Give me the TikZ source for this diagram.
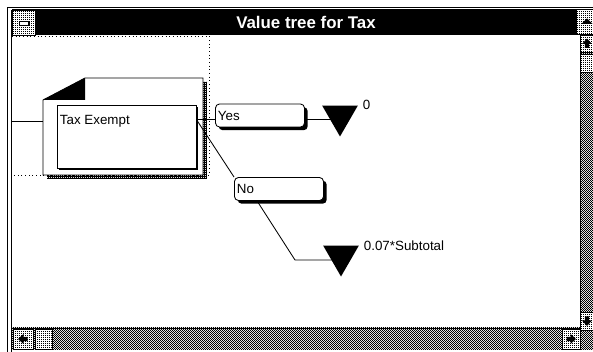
\documentclass[tikz,border=0pt]{standalone}
\usepackage{fontspec}
\setmainfont{Liberation Sans}
\usetikzlibrary{calc,positioning,shapes.geometric,shadows,patterns}

% screen dithers, one cell = one screen pixel
\pgfdeclarepatternformonly{halfdither}{\pgfpointorigin}{\pgfpoint{1.4173pt}{1.4173pt}}{\pgfpoint{1.4173pt}{1.4173pt}}{
  \pgfpathrectangle{\pgfpointorigin}{\pgfpoint{0.7087pt}{0.7087pt}}
  \pgfpathrectangle{\pgfpoint{0.7087pt}{0.7087pt}}{\pgfpoint{0.7087pt}{0.7087pt}}
  \pgfusepath{fill}}
\pgfdeclarepatternformonly{lightdither}{\pgfpointorigin}{\pgfpoint{1.4173pt}{1.4173pt}}{\pgfpoint{1.4173pt}{1.4173pt}}{
  \pgfpathrectangle{\pgfpointorigin}{\pgfpoint{0.7087pt}{0.7087pt}}
  \pgfusepath{fill}}
\pgfdeclarepatternformonly{darkdither}{\pgfpointorigin}{\pgfpoint{1.4173pt}{1.4173pt}}{\pgfpoint{1.4173pt}{1.4173pt}}{
  \pgfpathrectangle{\pgfpointorigin}{\pgfpoint{1.4173pt}{0.7087pt}}
  \pgfpathrectangle{\pgfpoint{0.7087pt}{0.7087pt}}{\pgfpoint{0.7087pt}{0.7087pt}}
  \pgfusepath{fill}}

\tikzset{scrollarrow/.pic={\fill (-5,0.5) -- (0,-5) -- (5,0.5) -- (2.2,0.5) -- (2.2,4.5) -- (-2.2,4.5) -- (-2.2,0.5) -- cycle;}}

\begin{document}
\begin{tikzpicture}[x=0.025cm,y=-0.025cm,line width=0.6pt,
font=\fontsize{9.5}{11}\selectfont,
track/.style={preaction={fill=white},pattern=halfdither,pattern color=black},
button/.style={preaction={fill=white},pattern=lightdither,pattern color=black,draw=black,line width=0.5pt},
branch/.style={draw,fill=white,rounded corners=0.1cm,minimum width=2.225cm,minimum height=0.575cm,
  text width=2.1cm,align=left,inner xsep=0.06cm,inner ysep=0pt,
  drop shadow={shadow xshift=0.08cm,shadow yshift=-0.08cm,fill=black,opacity=1}},
outcome/.style={regular polygon,regular polygon sides=3,shape border rotate=180,fill=black,
  minimum size=1.025cm,inner sep=0pt},
valtext/.style={anchor=west,inner sep=0pt,xshift=0.1cm}]
\useasboundingbox (0,0) rectangle (593,352);

% window frame and title bar
\draw (7,352) -- (7,7) -- (593,7);
\draw (11.5,352) -- (11.5,10);
\fill (12,9.5) rectangle (576,35);
\node[text=white,font=\bfseries\fontsize{12}{14}\selectfont] (title) at (306,22) {Value tree for Tax};
\draw[button] (12,10) rectangle (35,35);
\fill (20.5,22) rectangle (30,26.5);
\draw[fill=white] (19.5,21) rectangle (28.5,25);
\draw[button] (576,9.5) rectangle (593,34);
\fill (581.5,24) -- (592.5,24) -- (587,18.5) -- cycle;

% scroll bars
\path[track] (580,35) rectangle (593,350);
\draw (580,35) -- (580,350);
\draw[button] (580,35) rectangle (593,52);
\pic at (587,43.5) {scrollarrow};
\draw[button] (580,54) rectangle (593,72);
\draw[button] (580,312) rectangle (593,330);
\pic[rotate=180] at (587,321) {scrollarrow};
\path[track] (12,328) rectangle (580,350);
\draw (12,328) -- (580,328);
\draw[button] (13,329) rectangle (33,349);
\pic[rotate=90] at (23,339) {scrollarrow};
\draw[button] (35,329) rectangle (52,349);
\draw[button] (562,329) rectangle (580,349);
\pic[rotate=-90] at (571,339) {scrollarrow};

% page edge
\draw[dotted] (12,36) -- (209,36) -- (209,175) -- (12,175);

% decision card
\path[pattern=darkdither,pattern color=black] (89,82) -- (207,82) -- (207,179) -- (47,179) -- (47,104) -- cycle;
\filldraw[fill=white] (85,78) -- (203,78) -- (203,175) -- (43,175) -- (43,100) -- cycle;
\fill (43,100) -- (85,78) -- (85,100) -- cycle;
\node[draw,fill=white,minimum width=3.475cm,minimum height=1.575cm,
  drop shadow={shadow xshift=0.05cm,shadow yshift=-0.05cm,fill=black,opacity=1}] (taxexempt) at (126.5,136.5) {};
\node[anchor=base west,inner sep=0pt] (taxname) at ($(taxexempt.north west)+(3,20)$) {Tax Exempt};

\node[branch] (yes) at (260,115.5) {Yes};
\node[branch] (no) at (279,189) {No};
\node[outcome] (tri1) at (340,116) {};
\node[outcome] (tri2) at (341,256) {};
\node[valtext] (val1) at (tri1.corner 2) {0};
\node[valtext] (val2) at (tri2.corner 2) {0.07*Subtotal};

\coordinate (inlet) at (12,121);
\coordinate (fork) at ($(taxexempt.north east)+(0,15)$);
\coordinate (knee) at (295,260);

\draw (inlet) -- +(31,0);
\draw (fork) -- (fork -| yes.west);
\draw (fork -| yes.east) -- (fork -| tri1.center);
\draw (fork) -- (no.north west);
\draw ($(no.south west)+(23,0)$) -- (knee) -- (knee -| tri2.center);

\end{tikzpicture}
\end{document}
